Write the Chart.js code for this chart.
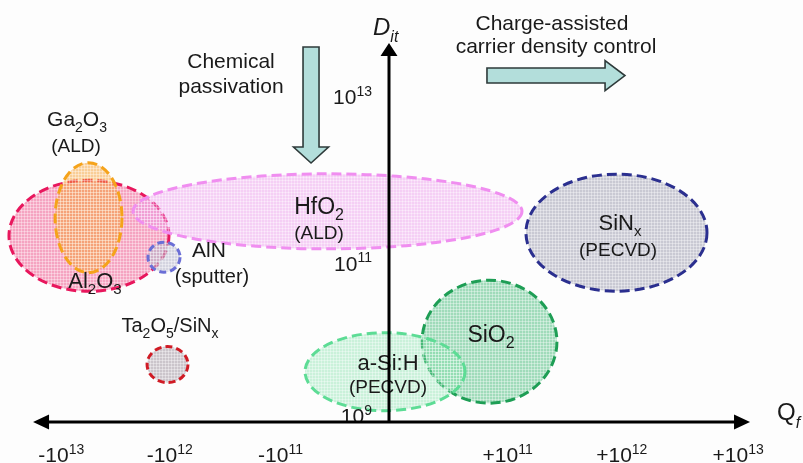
<!DOCTYPE html>
<html>
<head>
<meta charset="utf-8">
<script src="https://cdn.jsdelivr.net/npm/chart.js@4"></script>
<style>
  html, body { margin: 0; padding: 0; background: #fff; }
  #wrap { width: 803px; height: 463px; }
</style>
</head>
<body>
<div id="wrap"><canvas id="map" width="803" height="463"></canvas></div>
<script>
// Posisi tiap material: Qf dalam "dekade bertanda" (±1 = ±1e11, ±2 = ±1e12, ±3 = ±1e13), Dit dalam log10.
const materials = ['Al2O3', 'Ga2O3', 'HfO2', 'AlN', 'SiNx', 'SiO2', 'a-Si:H', 'Ta2O5/SiNx'];
const qfCenter  = [-2.655, -2.659, -0.544, -1.991, 2.013, 0.889, -0.035, -1.960];
const ditCenter = [11.23, 11.46, 11.54, 10.96, 11.27, 9.89, 9.51, 9.60];
const qfSpread  = [0.708, 0.296, 1.721, 0.142, 0.801, 0.597, 0.708, 0.181];
const ditSpread = [0.703, 0.696, 0.475, 0.190, 0.741, 0.778, 0.494, 0.228];

// Label sumbu
const xTickPos    = [-2.90, -1.94, -0.96, 1.05, 2.06, 3.09];
const xTickLabels = ['-10^{13}', '-10^{12}', '-10^{11}', '+10^{11}', '+10^{12}', '+10^{13}'];
const yTickPos    = [13, 10.89, 8.96];
const yTickLabels = ['10^{13}', '10^{11}', '10^{9}'];

// Teks label material (posisi dalam satuan data)
const labelText = ['Ga_{2}O_{3}', '(ALD)', 'Al_{2}O_{3}', 'AlN', '(sputter)', 'HfO_{2}', '(ALD)',
                   'SiN_{x}', '(PECVD)', 'SiO_{2}', 'a-Si:H', '(PECVD)', 'Ta_{2}O_{5}/SiN_{x}'];
const labelX = [-2.761, -2.770, -2.602, -1.593, -1.566, -0.619, -0.619, 2.044, 2.027, 0.903, -0.009, -0.009, -1.938];
const labelY = [12.620, 12.291, 10.570, 10.962, 10.633, 11.506, 11.190, 11.304, 10.975, 9.886, 9.532, 9.241, 10.013];
const labelSize = [21, 19, 22, 21, 20, 23, 19, 22, 19, 23, 22, 19, 20];

const strokeColors = ['#e8175d', '#f5a31a', '#f08ef0', '#6b6fd6', '#2b2f8f', '#1e9e55', '#5ddc95', '#d01b25'];
const fillColors = ['rgba(240,100,150,0.58)', 'rgba(245,160,50,0.5)', 'rgba(235,150,235,0.45)',
                    'rgba(185,185,205,0.6)', 'rgba(170,170,186,0.62)', 'rgba(75,188,125,0.52)',
                    'rgba(130,225,170,0.42)', 'rgba(170,160,170,0.6)'];

const FAM = "'Liberation Sans', Arial, sans-serif";
const TEXT = '#1a1a1a';

function hatch(ctx, color) {
    const c = document.createElement('canvas');
    c.width = 3; c.height = 3;
    const g = c.getContext('2d');
    g.fillStyle = color;
    g.fillRect(0, 0, 3, 3);
    g.fillStyle = 'rgba(255,255,255,0.35)';
    g.fillRect(0, 0, 3, 1);
    g.fillRect(0, 0, 1, 3);
    return ctx.createPattern(c, 'repeat');
}

function parseRich(s) {
    const parts = [];
    const re = /([_^])\{([^}]*)\}/g;
    let last = 0, m;
    while ((m = re.exec(s))) {
        if (m.index > last) parts.push({ t: s.slice(last, m.index), k: 'n' });
        parts.push({ t: m[2], k: m[1] === '_' ? 'sub' : 'sup' });
        last = re.lastIndex;
    }
    if (last < s.length) parts.push({ t: s.slice(last), k: 'n' });
    return parts;
}

// Menulis teks dengan subskrip/superskrip; y adalah baseline.
function drawRich(ctx, s, x, y, size, align, italic) {
    const parts = parseRich(s);
    const st = italic ? 'italic ' : '';
    const small = Math.round(size * 0.68);
    const font = p => st + (p.k === 'n' ? size : small) + 'px ' + FAM;
    let w = 0;
    parts.forEach(p => { ctx.font = font(p); p.w = ctx.measureText(p.t).width; w += p.w; });
    let cx = align === 'center' ? x - w / 2 : align === 'right' ? x - w : x;
    ctx.textAlign = 'left';
    ctx.textBaseline = 'alphabetic';
    parts.forEach(p => {
        ctx.font = font(p);
        const dy = p.k === 'sub' ? size * 0.28 : p.k === 'sup' ? -size * 0.40 : 0;
        ctx.fillText(p.t, cx, y + dy);
        cx += p.w;
    });
}

function blockArrow(ctx, pts) {
    ctx.beginPath();
    pts.forEach((p, i) => i ? ctx.lineTo(p[0], p[1]) : ctx.moveTo(p[0], p[1]));
    ctx.closePath();
    ctx.fillStyle = '#b3dedb';
    ctx.fill();
    ctx.lineWidth = 1.6;
    ctx.strokeStyle = '#2e3a3a';
    ctx.stroke();
}

const diagram = {
    id: 'diagram',
    beforeDraw(chart) {
        const ctx = chart.ctx;
        ctx.save();
        ctx.fillStyle = '#fdfdfd';
        ctx.fillRect(0, 0, chart.width, chart.height);
        ctx.restore();
    },
    beforeDatasetsDraw(chart) {
        const { ctx, scales: { x, y } } = chart;
        ctx.save();
        materials.forEach((m, i) => {
            const cx = x.getPixelForValue(qfCenter[i]);
            const cy = y.getPixelForValue(ditCenter[i]);
            const rx = Math.abs(x.getPixelForValue(qfCenter[i] + qfSpread[i]) - cx);
            const ry = Math.abs(y.getPixelForValue(ditCenter[i] + ditSpread[i]) - cy);
            ctx.beginPath();
            ctx.ellipse(cx, cy, rx, ry, 0, 0, Math.PI * 2);
            ctx.fillStyle = hatch(ctx, fillColors[i]);
            ctx.fill();
            ctx.setLineDash(rx < 30 ? [7, 4] : [10, 5]);
            ctx.lineWidth = 3;
            ctx.strokeStyle = strokeColors[i];
            ctx.stroke();
        });
        ctx.restore();
    },
    afterDatasetsDraw(chart) {
        const { ctx, scales: { x, y } } = chart;
        const px = v => x.getPixelForValue(v);
        const py = v => y.getPixelForValue(v);
        ctx.save();

        // Panah "Chemical passivation" (ke bawah) dan panah ke kanan
        const ax = px(-0.69), aTop = py(13.62), aHead = py(12.354), aTip = py(12.152);
        blockArrow(ctx, [[ax - 8, aTop], [ax + 8, aTop], [ax + 8, aHead], [ax + 17.5, aHead],
                         [ax, aTip], [ax - 17.5, aHead], [ax - 8, aHead]]);
        const rY = py(13.259), r0 = px(0.867), rHead = px(1.912), rTip = px(2.088);
        blockArrow(ctx, [[r0, rY - 7.5], [rHead, rY - 7.5], [rHead, rY - 15], [rTip, rY],
                         [rHead, rY + 15], [rHead, rY + 7.5], [r0, rY + 7.5]]);

        ctx.fillStyle = TEXT;
        drawRich(ctx, 'Chemical', px(-1.398), py(13.354), 21, 'center');
        drawRich(ctx, 'passivation', px(-1.398), py(13.038), 21, 'center');
        drawRich(ctx, 'Charge-assisted', px(1.442), py(13.835), 21, 'center');
        drawRich(ctx, 'carrier density control', px(1.478), py(13.544), 21, 'center');

        labelText.forEach((t, i) => drawRich(ctx, t, px(labelX[i]), py(labelY[i]), labelSize[i], 'center'));

        // Label tick
        yTickLabels.forEach((t, i) => drawRich(ctx, t, px(0) - 17, py(yTickPos[i]) + 8, 21, 'right'));
        xTickLabels.forEach((t, i) => drawRich(ctx, t, px(xTickPos[i]), py(8.367), 21, 'center'));

        // Sumbu
        const ox = px(0), oy = py(8.873);
        const xl = px(-3.15), xr = px(3.195), yt = py(13.671);
        ctx.strokeStyle = '#000';
        ctx.fillStyle = '#000';
        ctx.lineWidth = 3;
        ctx.beginPath();
        ctx.moveTo(xl + 12, oy); ctx.lineTo(xr - 12, oy);
        ctx.moveTo(ox, oy); ctx.lineTo(ox, yt + 10);
        ctx.stroke();
        ctx.beginPath();
        ctx.moveTo(xr, oy); ctx.lineTo(xr - 16, oy - 7.5); ctx.lineTo(xr - 16, oy + 7.5); ctx.closePath();
        ctx.moveTo(xl, oy); ctx.lineTo(xl + 16, oy - 7.5); ctx.lineTo(xl + 16, oy + 7.5); ctx.closePath();
        ctx.moveTo(ox, yt); ctx.lineTo(ox - 8.5, yt + 13); ctx.lineTo(ox + 8.5, yt + 13); ctx.closePath();
        ctx.fill();

        // Judul sumbu
        ctx.fillStyle = TEXT;
        drawRich(ctx, 'D_{it}', ox - 16, yt - 8, 24, 'left', true);
        ctx.font = '24px ' + FAM;
        ctx.textAlign = 'left';
        ctx.fillText('Q', xr + 27, oy - 2);
        const qw = ctx.measureText('Q').width;
        ctx.font = 'italic 16px ' + FAM;
        ctx.fillText('f', xr + 27 + qw, oy + 6);
        ctx.restore();
    }
};

new Chart(document.getElementById('map'), {
    type: 'scatter',
    data: {
        datasets: [{
            label: 'Materials',
            data: materials.map((m, i) => ({ x: qfCenter[i], y: ditCenter[i] })),
            pointRadius: 0
        }]
    },
    options: {
        responsive: false,
        animation: false,
        devicePixelRatio: 1,
        layout: { padding: 0 },
        plugins: { legend: { display: false }, tooltip: { enabled: false } },
        scales: {
            x: { type: 'linear', min: -389 / 113, max: 414 / 113, display: false },
            y: { type: 'linear', min: 13 - 367 / 79, max: 13 + 96 / 79, display: false }
        }
    },
    plugins: [diagram]
});
</script>
</body>
</html>
